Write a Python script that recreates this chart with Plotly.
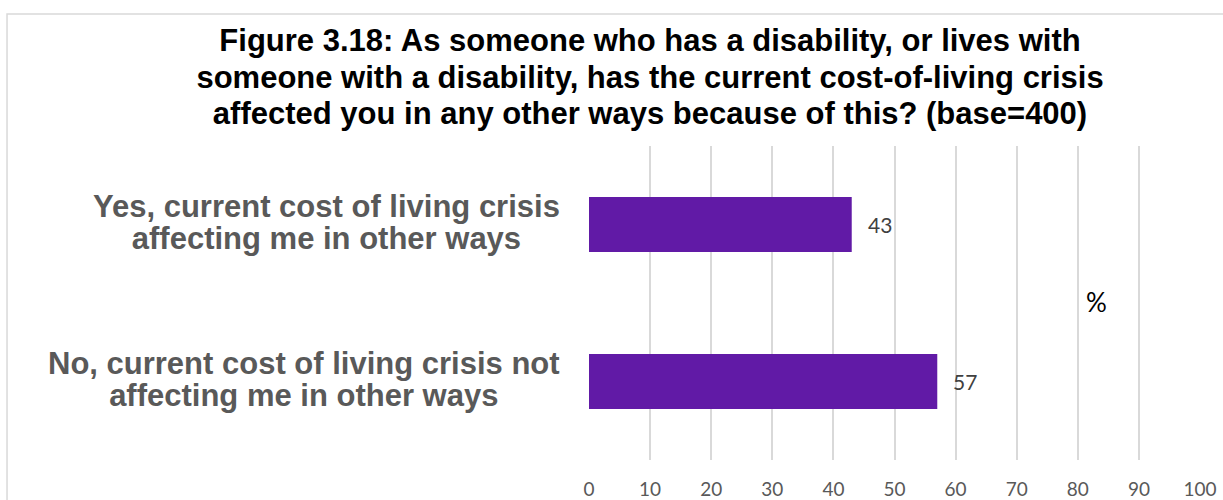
import plotly.graph_objects as go

# Survey responses (percent of base=400)
categories = [
    "Yes, current cost of living crisis<br>affecting me in other ways",
    "No, current cost of living crisis not<br>affecting me in other ways",
]
values = [43, 57]
tick_values = [0, 10, 20, 30, 40, 50, 60, 70, 80, 90, 100]
title_text = ("Figure 3.18: As someone who has a disability, or lives with<br>"
              "someone with a disability, has the current cost-of-living crisis<br>"
              "affected you in any other ways because of this? (base=400)")
axis_unit = "%"

BAR_COLOR = "#611AA6"
GRID_COLOR = "#D9D9D9"
LABEL_GRAY = "#595959"
SANS = "Liberation Sans, Arial"
NUM_FONT = "Lato, Open Sans"


def sized(text, px):
    # Wrap text in a span so glyph size is independent of the line pitch
    return "<br>".join(f'<span style="font-size:{px}px">{ln}</span>' for ln in text.split("<br>"))


fig = go.Figure(
    go.Bar(
        x=values,
        y=categories,
        orientation="h",
        marker=dict(color=BAR_COLOR, line=dict(width=0)),
        width=0.35,
        hoverinfo="skip",
    )
)

annotations = []
# Category labels: centred lines in a right-aligned block
for cat in categories:
    annotations.append(dict(
        x=0, xref="paper", y=cat, yref="y",
        text=sized(cat, 31), showarrow=False,
        xanchor="right", yanchor="middle", align="center",
        xshift=-27, yshift=2,
        font=dict(family=SANS, size=24.4, color=LABEL_GRAY, weight="bold"),
    ))
# Value labels beside the bars
for cat, v in zip(categories, values):
    annotations.append(dict(
        x=v, xref="x", y=cat, yref="y",
        text=str(v), showarrow=False,
        xanchor="left", yanchor="middle", xshift=14,
        font=dict(family=NUM_FONT, size=21, color="#404040"),
    ))
# Unit label
annotations.append(dict(
    x=0.8314, xref="paper", y=0.503, yref="paper",
    text=axis_unit, showarrow=False, xanchor="center", yanchor="middle",
    font=dict(family=NUM_FONT, size=26, color="#000000"),
))

fig.update_layout(
    width=1223, height=500,
    margin=dict(l=589, r=23, t=146, b=40, autoexpand=False),
    paper_bgcolor="white", plot_bgcolor="white",
    showlegend=False,
    bargap=0.65,
    title=dict(
        text=sized(title_text, 31),
        x=0.5315, xanchor="center", xref="container",
        y=0.898, yanchor="top", yref="container",
        font=dict(family=SANS, size=28.2, color="#000000", weight="bold"),
    ),
    xaxis=dict(
        range=[0, 100], tickvals=tick_values,
        showgrid=True, gridcolor=GRID_COLOR, gridwidth=1.5,
        zeroline=False, showline=False, ticks="",
        ticklabelstandoff=16,
        tickfont=dict(family=NUM_FONT, size=19, color=LABEL_GRAY),
    ),
    yaxis=dict(
        autorange="reversed", showticklabels=False,
        showgrid=False, zeroline=False, showline=False, ticks="",
    ),
    annotations=annotations,
    shapes=[dict(
        type="rect", xref="paper", yref="paper",
        x0=-0.9525, x1=1.06, y0=-0.14, y1=1.4204,
        line=dict(color=GRID_COLOR, width=1.5), fillcolor="rgba(0,0,0,0)",
        layer="below",
    )],
)

fig.write_html("out.html")
